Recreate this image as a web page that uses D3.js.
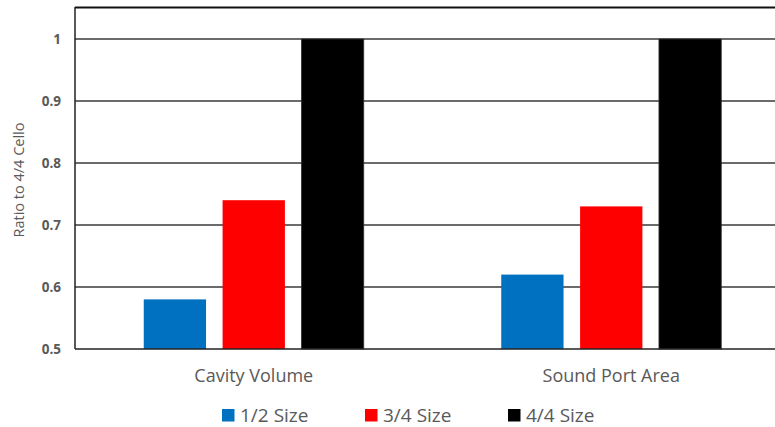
<!DOCTYPE html>
<html>
<head>
<meta charset="utf-8">
<script src="https://cdn.jsdelivr.net/npm/d3@7"></script>
<style>
  html, body { margin: 0; padding: 0; background: #fff; overflow: hidden; }
  svg { display: block; font-family: "Segoe UI", "Open Sans", "Noto Sans", sans-serif; }
</style>
</head>
<body>
<svg id="chart" width="775" height="427"></svg>
<script>
// Measurements compared to a full-size (4/4) cello
const categories = ["Cavity Volume", "Sound Port Area"];
const seriesNames = ["1/2 Size", "3/4 Size", "4/4 Size"];
const seriesColors = ["#0070C0", "#FF0000", "#000000"];
const half = [0.58, 0.62];
const threeQuarter = [0.74, 0.73];
const full = [1.0, 1.0];
const yTicks = [0.5, 0.6, 0.7, 0.8, 0.9, 1];
const yTitle = "Ratio to 4/4 Cello";

const seriesValues = [half, threeQuarter, full];

const svg = d3.select("#chart");
const margin = { left: 75, top: 7, right: -15, bottom: 78 };
const W = 775, H = 427;
const plotW = W - margin.left - margin.right;
const plotBottom = 349;

// y: 0.5 sits on the axis line, 1 at y=39
const y = d3.scaleLinear().domain([0.5, 1]).range([plotBottom, 39]);

const x0 = d3.scaleBand().domain(categories)
  .range([margin.left, margin.left + plotW]).paddingInner(0).paddingOuter(0);
const x1 = d3.scaleBand().domain(seriesNames)
  .range([0, 220]).paddingInner(0.21).paddingOuter(0);

// gridlines
const grid = svg.append("g");
grid.selectAll("line").data(yTicks.filter(d => d > 0.5)).join("line")
  .attr("x1", margin.left).attr("x2", margin.left + plotW)
  .attr("y1", d => y(d)).attr("y2", d => y(d))
  .attr("stroke", "#3a3a3a").attr("stroke-width", 1.3);

// plot top border
svg.append("line")
  .attr("x1", margin.left).attr("x2", margin.left + plotW)
  .attr("y1", margin.top + 0.5).attr("y2", margin.top + 0.5)
  .attr("stroke", "#111").attr("stroke-width", 1.8);

// bars
const groups = svg.append("g").selectAll("g").data(categories).join("g")
  .attr("transform", c => `translate(${x0(c) + x0.bandwidth() / 2 - 110},0)`);
groups.selectAll("rect")
  .data((c, ci) => seriesNames.map((s, si) => ({ s, si, v: seriesValues[si][ci] })))
  .join("rect")
  .attr("x", d => x1(d.s))
  .attr("width", x1.bandwidth())
  .attr("y", d => y(d.v))
  .attr("height", d => plotBottom - y(d.v))
  .attr("fill", d => seriesColors[d.si])
  .attr("stroke", d => d.si === 2 ? "#333" : "none")
  .attr("stroke-width", 0.8);

// left axis line and bottom axis line
svg.append("line")
  .attr("x1", margin.left).attr("x2", margin.left)
  .attr("y1", margin.top).attr("y2", plotBottom)
  .attr("stroke", "#222").attr("stroke-width", 1.5);
svg.append("line")
  .attr("x1", margin.left).attr("x2", margin.left + plotW)
  .attr("y1", plotBottom).attr("y2", plotBottom)
  .attr("stroke", "#222").attr("stroke-width", 1.5);

// y tick labels
const yAxis = d3.axisLeft(y).tickValues(yTicks).tickFormat(d3.format("")).tickSize(0).tickPadding(14);
const ya = svg.append("g").attr("transform", `translate(${margin.left},0)`).call(yAxis);
ya.select(".domain").remove();
ya.selectAll("text")
  .attr("fill", "#595959").attr("font-size", 13.5).attr("font-weight", "bold")
  .attr("font-family", "\"Segoe UI\", \"Open Sans\", sans-serif");

// y title
svg.append("text")
  .attr("transform", `translate(24,180) rotate(-90)`)
  .attr("text-anchor", "middle")
  .attr("fill", "#595959").attr("font-size", 14.5)
  .text(yTitle);

// category labels
const xAxis = d3.axisBottom(x0).tickSize(0).tickPadding(20);
const xa = svg.append("g").attr("transform", `translate(0,${plotBottom})`).call(xAxis);
xa.select(".domain").remove();
xa.selectAll("text").attr("fill", "#595959").attr("font-size", 18)
  .attr("font-family", "\"Segoe UI\", \"Open Sans\", sans-serif");

// legend
const legendX = [222, 365, 508];
const legend = svg.append("g").selectAll("g").data(seriesNames).join("g")
  .attr("transform", (d, i) => `translate(${legendX[i]},409)`);
legend.append("rect").attr("width", 12.5).attr("height", 12.5)
  .attr("fill", (d, i) => seriesColors[i]);
legend.append("text").attr("x", 18).attr("y", 13)
  .attr("fill", "#595959").attr("font-size", 19)
  .text(d => d);
</script>
</body>
</html>
